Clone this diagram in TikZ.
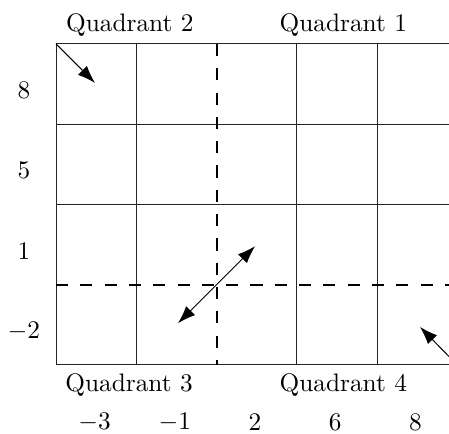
\documentclass[tikz,border=0pt]{standalone}
\usetikzlibrary{arrows.meta}
\begin{document}
\begin{tikzpicture}[x=31.7pt,y=31.7pt,
    gridline/.style={black!85,line width=0.4pt},
    axisline/.style={thick,dash pattern=on 4.8pt off 4.8pt},
    vec/.style={line width=0.4pt,-{Latex[length=7pt,width=5pt]}},
    dvec/.style={line width=0.4pt,{Latex[length=7pt,width=5pt]}-{Latex[length=7pt,width=5pt]}}]
  \useasboundingbox (-0.698,-0.860) rectangle (4.897,4.548);
  \clip (-0.698,-0.860) rectangle (4.897,4.548);
  % grid
  \foreach \x in {0,1,3,4}
    \draw[gridline] (\x,0) -- (\x,4);
  \foreach \y in {0,2,3,4}
    \draw[gridline] (0,\y) -- (5,\y);
  \draw[axisline] (2,4) -- (2,0);
  \draw[axisline] (0,1) -- (5,1);
  % quadrant labels
  \node (q2) at (0.92,4.24) {Quadrant 2};
  \node (q1) at (3.58,4.24) {Quadrant 1};
  \node (q3) at (0.91,-0.25) {Quadrant 3};
  \node (q4) at (3.58,-0.25) {Quadrant 4};
  % tick values
  \foreach \v [count=\i] in {-3,-1,2,6,8}
    \node (xv\i) at (\i-0.52,-0.72) {$\v$};
  \foreach \v [count=\i] in {-2,1,5,8}
    \node (yv\i) at (-0.40,\i-0.58) {$\v$};
  % vectors
  \coordinate (nw) at (0,4);
  \coordinate (nwtip) at (0.486,3.514);
  \coordinate (se) at (5,0);
  \coordinate (setip) at (4.536,0.474);
  \coordinate (lo) at (1.52,0.52);
  \coordinate (hi) at (2.48,1.48);
  \draw[vec] (nw) -- (nwtip);
  \draw[vec] (se) -- (setip);
  \draw[dvec] (lo) -- (hi);
\end{tikzpicture}
\end{document}
